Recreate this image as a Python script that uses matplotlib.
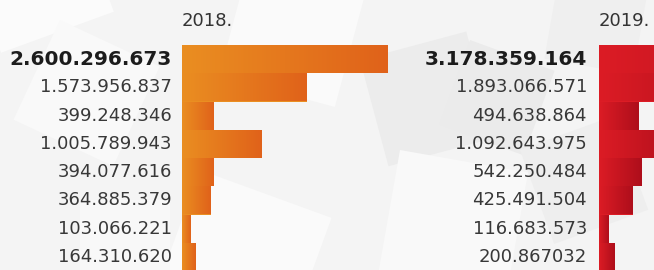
import numpy as np
import matplotlib
matplotlib.use("Agg")
import matplotlib.pyplot as plt
import matplotlib.transforms as mtransforms
from matplotlib.colors import LinearSegmentedColormap
from matplotlib.patches import Rectangle

# ---- data ----
years = ["2018.", "2019."]
values_2018 = [2600296673, 1573956837, 399248346, 1005789943,
               394077616, 364885379, 103066221, 164310620]
values_2019 = [3178359164, 1893066571, 494638864, 1092643975,
               542250484, 425491504, 116683573, 200867032]
labels_2018 = ["2.600.296.673", "1.573.956.837", "399.248.346", "1.005.789.943",
               "394.077.616", "364.885.379", "103.066.221", "164.310.620"]
labels_2019 = ["3.178.359.164", "1.893.066.571", "494.638.864", "1.092.643.975",
               "542.250.484", "425.491.504", "116.683.573", "200.867032"]

W, H = 654, 270
DPI = 100
fig = plt.figure(figsize=(W / DPI, H / DPI), dpi=DPI)
fig.patch.set_facecolor("#F4F4F4")

# ---- decorative background squares ----
bg = fig.add_axes([0, 0, 1, 1], zorder=-5)
bg.set_xlim(0, W)
bg.set_ylim(H, 0)
bg.axis("off")
squares = [
    (-40, -60, 120, -20, "#FBFBFB"),
    (60, 20, 110, 25, "#F9F9F9"),
    (250, -40, 120, 15, "#FAFAFA"),
    (360, 60, 110, -15, "#ECECEC"),
    (470, 40, 90, 20, "#EBEBEB"),
    (400, 150, 130, 10, "#F9F9F9"),
    (520, 150, 100, -20, "#EEEEEE"),
    (200, 170, 140, 20, "#FAFAFA"),
    (560, -30, 90, 10, "#EFEFEF"),
    (80, 200, 90, 0, "#F8F8F8"),
]
for x, y, s, ang, c in squares:
    bg.add_patch(Rectangle((x, y), s, s, angle=ang, facecolor=c, edgecolor="none"))

PX_PER_B = 79.2          # pixels per billion
BAR_TOP, BAR_BOT = 45, 271


def panel(left_px, right_px, vals, labels, title, c0, c1, label_gap):
    ax = fig.add_axes([left_px / W, (H - BAR_BOT) / H,
                       (right_px - left_px) / W, (BAR_BOT - BAR_TOP) / H])
    ax.set_facecolor("none")
    ax.axis("off")
    v = np.array(vals) / 1e9
    n = len(v)
    ypos = np.arange(n)
    bars = ax.barh(ypos, v, height=1.0, color=c0, linewidth=0, zorder=1)
    cmap = LinearSegmentedColormap.from_list("g", [c0, c1])
    grad = np.linspace(0, 1, 256).reshape(1, -1)
    for rect, val, yy in zip(bars, v, ypos):
        im = ax.imshow(grad, cmap=cmap, extent=[0, val, yy + 0.5, yy - 0.5],
                       aspect="auto", zorder=2, interpolation="bilinear")
        im.set_clip_path(rect)
    ax.set_xlim(0, (right_px - left_px) / PX_PER_B)
    ax.set_ylim(n - 0.5, -0.5)

    tr = mtransforms.offset_copy(ax.get_yaxis_transform(), fig=fig,
                                 x=-label_gap, y=0, units="dots")
    for i, lab in enumerate(labels):
        ax.text(0, i, lab, transform=tr, ha="right", va="center",
                fontsize=14.5 if i == 0 else 13, family="DejaVu Sans",
                fontweight="bold" if i == 0 else "normal",
                color="#1C1C1C" if i == 0 else "#383838")
    ttr = mtransforms.offset_copy(ax.transAxes, fig=fig, x=0, y=24.5, units="dots")
    ax.text(0, 1, title, transform=ttr, ha="left", va="center",
            fontsize=13, family="DejaVu Sans", color="#333333")
    return ax


panel(182, 420, values_2018, labels_2018, years[0], "#EA8E21", "#E0621A", 10)
panel(599, 720, values_2019, labels_2019, years[1], "#DC1C25", "#AE0E1B", 12)

fig.savefig("out.png", dpi=DPI, facecolor=fig.get_facecolor())
